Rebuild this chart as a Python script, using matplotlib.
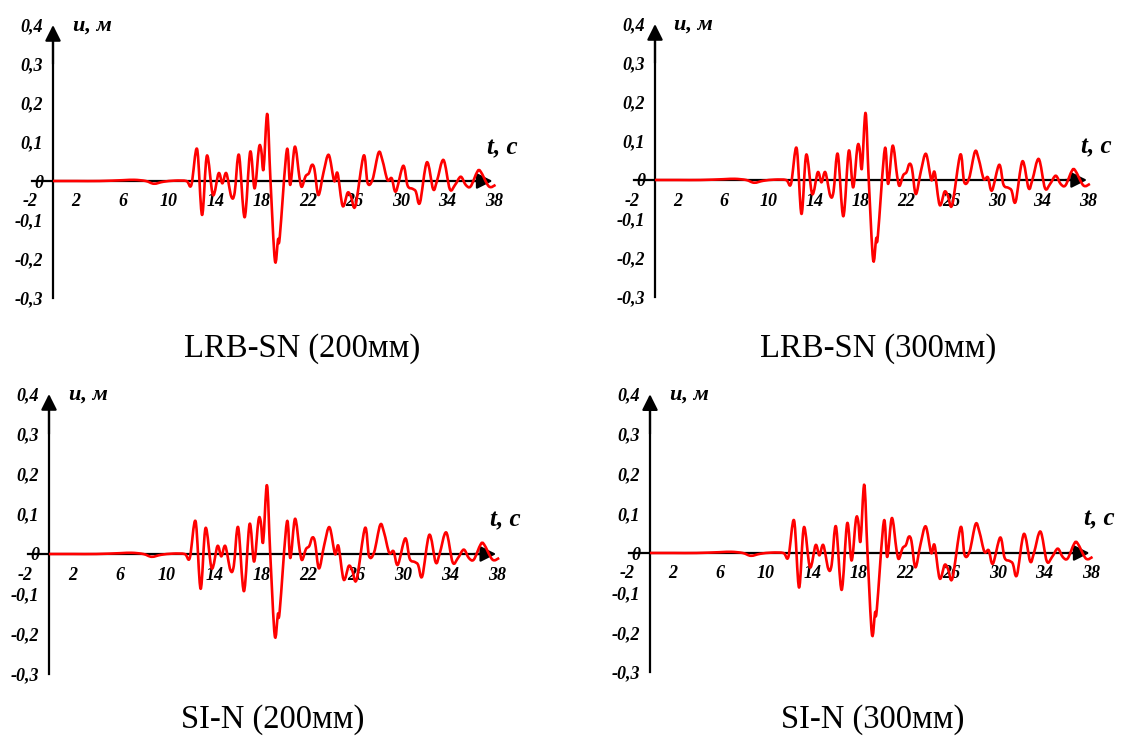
import numpy as np
import matplotlib.pyplot as plt
from matplotlib.path import Path
from matplotlib.patches import PathPatch

W, H = 1145, 736

# displacement time history u(t) (same in all four panels)
t = [0, 2, 4, 6, 7, 8, 8.7, 9.5, 10.5, 11.5, 11.93, 12.42, 12.85, 13.27, 13.79,
     14.28, 14.6, 14.94, 15.37, 15.66, 16.03, 16.52, 17.0, 17.38, 17.75, 17.95,
     18.15, 18.47, 18.75, 19.13, 19.4, 19.55, 20.16, 20.45, 20.85, 21.24, 21.45,
     21.77, 22.06, 22.31, 22.54, 22.88, 23.32, 23.77, 24.24, 24.53, 24.97, 25.4,
     25.69, 26.07, 26.78, 27.12, 27.55, 28.07, 28.4, 28.83, 29.2, 29.56, 30.19,
     30.57, 31.0, 31.28, 31.63, 32.23, 32.77, 33.1, 33.66, 34.21, 34.66, 35.15,
     35.58, 36.0, 36.58, 36.87, 37.58, 38.15]
u = [0, 0, 0, 0.002, 0.003, 0.0, -0.007, -0.002, 0.001, 0.0, -0.01, 0.082,
     -0.087, 0.065, -0.036, 0.02, -0.006, 0.02, -0.04, -0.03, 0.067, -0.093,
     0.075, -0.019, 0.084, 0.08, 0.03, 0.172, 0.0, -0.204, -0.15, -0.143, 0.08,
     -0.01, 0.088, 0.01, -0.015, 0.012, 0.02, 0.041, 0.03, -0.036, 0.022, 0.067,
     0.0, 0.02, -0.064, -0.03, -0.04, -0.064, 0.065, -0.005, 0.004, 0.073,
     0.053, 0.003, 0.007, -0.027, 0.039, -0.012, -0.02, -0.027, -0.056, 0.048,
     -0.021, 0.0, 0.054, -0.021, -0.01, 0.011, -0.01, -0.014, 0.024, 0.024,
     -0.014, -0.01]

titles = ['LRB-SN (200мм)', 'LRB-SN (300мм)', 'SI-N (200мм)', 'SI-N (300мм)']
y_ticks = [-0.3, -0.2, -0.1, 0, 0.1, 0.2, 0.3, 0.4]
y_labels = ['-0,3', '-0,2', '-0,1', '0', '0,1', '0,2', '0,3', '0,4']
x_ticks = [-2, 2, 6, 10, 14, 18, 22, 26, 30, 34, 38]

# panel origin in pixels, px per second, px per metre, title centre x, title baseline y
panels = [
    (53, 181, 11.6, 390, 302, 357),
    (655, 180, 11.4, 390, 878, 357),
    (49, 554, 11.8, 400, 273, 728),
    (650, 553, 11.6, 397, 873, 728),
]

serif = 'Liberation Serif'


def smooth_path(xs, ys):
    # Excel-style smoothed line: Catmull-Rom segments as cubic Beziers
    p = np.column_stack([xs, ys])
    verts = [p[0]]
    codes = [Path.MOVETO]
    n = len(p)
    for i in range(n - 1):
        p0 = p[max(i - 1, 0)]
        p1 = p[i]
        p2 = p[i + 1]
        p3 = p[min(i + 2, n - 1)]
        verts += [p1 + (p2 - p0) / 6, p2 - (p3 - p1) / 6, p2]
        codes += [Path.CURVE4] * 3
    return Path(verts, codes)


fig = plt.figure(figsize=(W / 100, H / 100), dpi=100)

xlo, xhi = -4, 40
ylo, yhi = -0.34, 0.44
for (x0, y0, sx, sy, tx, ty), title in zip(panels, titles):
    left = (x0 + xlo * sx) / W
    bottom = 1 - (y0 - ylo * sy) / H
    ax = fig.add_axes([left, bottom, (xhi - xlo) * sx / W, (yhi - ylo) * sy / H])
    ax.set_xlim(xlo, xhi)
    ax.set_ylim(ylo, yhi)
    ax.patch.set_alpha(0)

    for s in ['top', 'right']:
        ax.spines[s].set_visible(False)
    ax.spines['left'].set_position(('data', 0))
    ax.spines['bottom'].set_position(('data', 0))
    ax.spines['left'].set_bounds(-0.3, 0.38)
    ax.spines['bottom'].set_bounds(-1.8, 37.0)
    for s in ['left', 'bottom']:
        ax.spines[s].set_linewidth(1.6)

    ax.set_yticks(y_ticks)
    ax.set_yticklabels(y_labels)
    ax.set_xticks(x_ticks)
    ax.set_xticklabels([str(v) for v in x_ticks])
    ax.tick_params(axis='y', length=0, pad=7)
    ax.tick_params(axis='x', length=0, pad=9)
    for lab in ax.get_xticklabels() + ax.get_yticklabels():
        lab.set_fontfamily(serif)
        lab.set_fontweight('bold')
        lab.set_fontstyle('italic')
        lab.set_fontsize(13)

    arrow = dict(arrowstyle='-|>,head_length=0.5,head_width=0.25', color='black',
                 lw=1.6, mutation_scale=19, shrinkA=0, shrinkB=0)
    ax.annotate('', xy=(0, 0.4), xytext=(0, 0.3), arrowprops=arrow)
    ax.annotate('', xy=(37.9, 0), xytext=(36, 0), arrowprops=arrow)

    ax.add_patch(PathPatch(smooth_path(t, u), fill=False, edgecolor='#ff0000',
                           lw=1.9, zorder=4, joinstyle='round'))

    ax.text(1.7, 0.398, 'u, м', fontfamily=serif, fontweight='bold',
            fontstyle='italic', fontsize=16, ha='left', va='center')
    ax.text(37.4, 0.085, 't, с', fontfamily=serif, fontweight='bold',
            fontstyle='italic', fontsize=18, ha='left', va='center')

    fig.text(tx / W, 1 - ty / H, title, fontfamily=serif, fontsize=23.5,
             ha='center', va='baseline')

fig.savefig('out.png', dpi=100)
